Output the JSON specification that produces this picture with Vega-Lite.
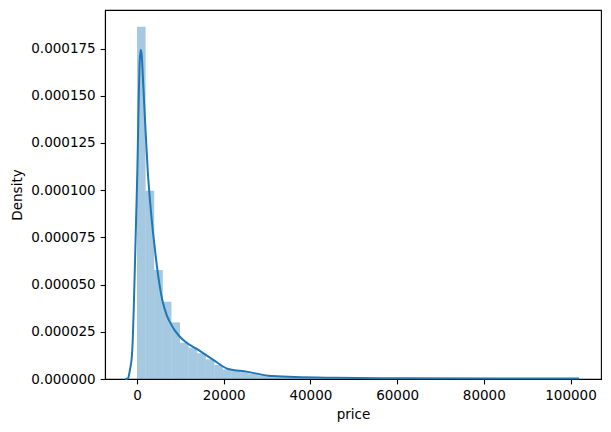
{
  "$schema": "https://vega.github.io/schema/vega-lite/v6.json",
  "width": 496,
  "height": 369,
  "autosize": {"type": "none"},
  "padding": {"left": 105, "top": 10, "right": 10, "bottom": 53},
  "background": "white",
  "config": {
    "view": {"stroke": "black", "strokeWidth": 1.1},
    "font": "DejaVu Sans",
    "axis": {
      "labelFont": "DejaVu Sans",
      "titleFont": "DejaVu Sans",
      "labelFontSize": 13.5,
      "titleFontSize": 13.5,
      "titleFontWeight": "normal",
      "labelColor": "black",
      "titleColor": "black",
      "domainColor": "black",
      "domainWidth": 1.1,
      "tickColor": "black",
      "tickWidth": 1.1,
      "tickSize": 4.9,
      "labelPadding": 4.9,
      "grid": false
    }
  },
  "datasets": {
    "hist": [
      {"bin_start": 0, "bin_end": 1985, "density": 0.0001865},
      {"bin_start": 1985, "bin_end": 3970, "density": 0.0000997},
      {"bin_start": 3970, "bin_end": 5955, "density": 0.0000577},
      {"bin_start": 5955, "bin_end": 7940, "density": 0.0000409},
      {"bin_start": 7940, "bin_end": 9925, "density": 0.0000300},
      {"bin_start": 9925, "bin_end": 11910, "density": 0.0000192},
      {"bin_start": 11910, "bin_end": 13895, "density": 0.0000166},
      {"bin_start": 13895, "bin_end": 15880, "density": 0.0000136},
      {"bin_start": 15880, "bin_end": 17865, "density": 0.0000104},
      {"bin_start": 17865, "bin_end": 19850, "density": 0.0000074},
      {"bin_start": 19850, "bin_end": 21835, "density": 0.0000051},
      {"bin_start": 21835, "bin_end": 23820, "density": 0.0000042},
      {"bin_start": 23820, "bin_end": 25805, "density": 0.0000036},
      {"bin_start": 25805, "bin_end": 27790, "density": 0.0000028},
      {"bin_start": 27790, "bin_end": 29775, "density": 0.0000020},
      {"bin_start": 29775, "bin_end": 31760, "density": 0.0000015},
      {"bin_start": 31760, "bin_end": 33745, "density": 0.0000012},
      {"bin_start": 33745, "bin_end": 35730, "density": 0.0000010},
      {"bin_start": 35730, "bin_end": 37715, "density": 0.0000008},
      {"bin_start": 37715, "bin_end": 39700, "density": 0.0000006},
      {"bin_start": 39700, "bin_end": 41685, "density": 0.0000005},
      {"bin_start": 41685, "bin_end": 43670, "density": 0.0000004},
      {"bin_start": 43670, "bin_end": 45655, "density": 0.00000035},
      {"bin_start": 45655, "bin_end": 47640, "density": 0.0000003},
      {"bin_start": 47640, "bin_end": 49625, "density": 0.0000003},
      {"bin_start": 49625, "bin_end": 51610, "density": 0.00000025},
      {"bin_start": 51610, "bin_end": 53595, "density": 0.0000002},
      {"bin_start": 53595, "bin_end": 55580, "density": 0.0000002},
      {"bin_start": 55580, "bin_end": 57565, "density": 0.0000002},
      {"bin_start": 57565, "bin_end": 59550, "density": 0.00000015},
      {"bin_start": 59550, "bin_end": 61535, "density": 0.00000015},
      {"bin_start": 61535, "bin_end": 63520, "density": 0.0000002},
      {"bin_start": 63520, "bin_end": 65505, "density": 0.00000015},
      {"bin_start": 65505, "bin_end": 67490, "density": 0.0000001},
      {"bin_start": 67490, "bin_end": 69475, "density": 0.00000015},
      {"bin_start": 69475, "bin_end": 71460, "density": 0.0000001},
      {"bin_start": 71460, "bin_end": 73445, "density": 0.0000001},
      {"bin_start": 73445, "bin_end": 75430, "density": 0.00000015},
      {"bin_start": 75430, "bin_end": 77415, "density": 0.0000001},
      {"bin_start": 77415, "bin_end": 79400, "density": 0.0000001},
      {"bin_start": 79400, "bin_end": 81385, "density": 0.0000001},
      {"bin_start": 81385, "bin_end": 83370, "density": 0.00000008},
      {"bin_start": 83370, "bin_end": 85355, "density": 0.0000001},
      {"bin_start": 85355, "bin_end": 87340, "density": 0.00000008},
      {"bin_start": 87340, "bin_end": 89325, "density": 0.00000008},
      {"bin_start": 89325, "bin_end": 91310, "density": 0.00000006},
      {"bin_start": 91310, "bin_end": 93295, "density": 0.00000008},
      {"bin_start": 93295, "bin_end": 95280, "density": 0.00000006},
      {"bin_start": 95280, "bin_end": 97265, "density": 0.00000005},
      {"bin_start": 97265, "bin_end": 99250, "density": 0.00000006}
    ],
    "kde": [
      {"price": -2700, "density": 0.0},
      {"price": -2076, "density": 0.00000026},
      {"price": -1776, "density": 0.0000030},
      {"price": -1500, "density": 0.0000064},
      {"price": -1223, "density": 0.0000110},
      {"price": -992, "density": 0.0000200},
      {"price": -740, "density": 0.0000380},
      {"price": -480, "density": 0.0000600},
      {"price": -200, "density": 0.0000850},
      {"price": 100, "density": 0.0001120},
      {"price": 360, "density": 0.0001440},
      {"price": 600, "density": 0.0001670},
      {"price": 854, "density": 0.0001744},
      {"price": 1084, "density": 0.0001716},
      {"price": 1384, "density": 0.0001585},
      {"price": 1846, "density": 0.0001372},
      {"price": 2468, "density": 0.0001107},
      {"price": 3230, "density": 0.0000885},
      {"price": 4153, "density": 0.0000683},
      {"price": 4960, "density": 0.0000535},
      {"price": 5837, "density": 0.0000418},
      {"price": 6921, "density": 0.0000334},
      {"price": 8075, "density": 0.0000281},
      {"price": 9528, "density": 0.0000233},
      {"price": 11074, "density": 0.0000198},
      {"price": 14142, "density": 0.0000154},
      {"price": 17603, "density": 0.0000101},
      {"price": 21063, "density": 0.0000053},
      {"price": 25308, "density": 0.0000039},
      {"price": 30291, "density": 0.00000175},
      {"price": 36451, "density": 0.00000106},
      {"price": 45680, "density": 0.00000064},
      {"price": 60680, "density": 0.00000037},
      {"price": 83740, "density": 0.00000026},
      {"price": 101970, "density": 0.00000021}
    ]
  },
  "layer": [
    {
      "data": {"name": "hist"},
      "mark": {"type": "rect", "color": "#1f77b4", "opacity": 0.4, "strokeWidth": 0},
      "encoding": {
        "x": {
          "field": "bin_start",
          "type": "quantitative",
          "scale": {"domain": [-7380, 107030], "nice": false, "zero": false},
          "axis": {"title": "price", "values": [0, 20000, 40000, 60000, 80000, 100000], "format": "d", "titlePadding": 5}
        },
        "x2": {"field": "bin_end"},
        "y": {
          "field": "density",
          "type": "quantitative",
          "scale": {"domain": [0, 0.0001954], "nice": false},
          "axis": {"title": "Density", "values": [0, 0.000025, 0.00005, 0.000075, 0.0001, 0.000125, 0.00015, 0.000175], "format": ".6f", "titlePadding": 6}
        },
        "y2": {"datum": 0}
      }
    },
    {
      "data": {"name": "kde"},
      "mark": {"type": "line", "color": "#1f77b4", "strokeWidth": 2, "interpolate": "monotone"},
      "encoding": {
        "x": {"field": "price", "type": "quantitative"},
        "y": {"field": "density", "type": "quantitative"}
      }
    }
  ]
}
